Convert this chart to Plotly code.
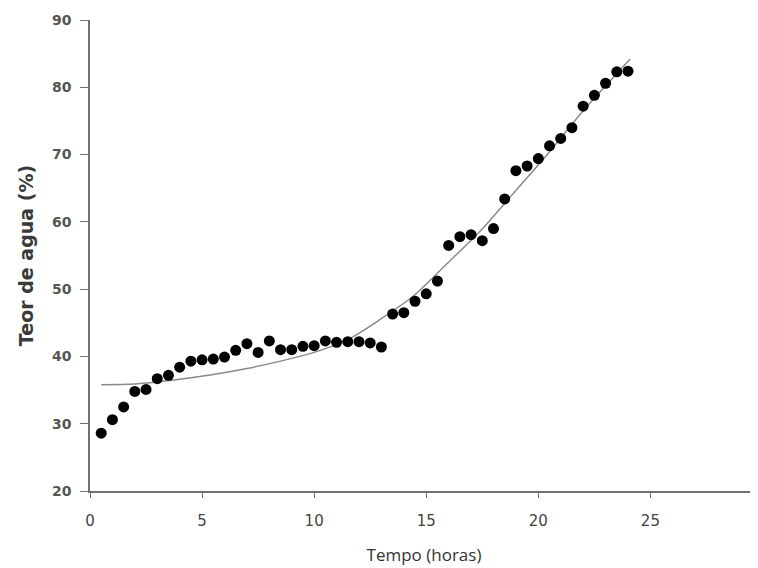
import plotly.graph_objects as go

# Measured points (time in hours, water content %)
tempo = [0.5, 1.0, 1.5, 2.0, 2.5, 3.0, 3.5, 4.0, 4.5, 5.0, 5.5, 6.0, 6.5, 7.0, 7.5, 8.0,
         8.5, 9.0, 9.5, 10.0, 10.5, 11.0, 11.5, 12.0, 12.5, 13.0, 13.5, 14.0, 14.5, 15.0,
         15.5, 16.0, 16.5, 17.0, 17.5, 18.0, 18.5, 19.0, 19.5, 20.0, 20.5, 21.0, 21.5,
         22.0, 22.5, 23.0, 23.5, 24.0]
teor = [28.6, 30.6, 32.5, 34.8, 35.1, 36.7, 37.2, 38.4, 39.3, 39.5, 39.6, 39.9, 40.9, 41.9,
        40.6, 42.3, 41.0, 41.0, 41.5, 41.6, 42.3, 42.1, 42.2, 42.2, 42.0, 41.4, 46.3, 46.5,
        48.2, 49.3, 51.2, 56.5, 57.8, 58.1, 57.2, 59.0, 63.4, 67.6, 68.3, 69.4, 71.3, 72.4,
        74.0, 77.2, 78.8, 80.6, 82.3, 82.4]

# Trend curve
curva_x = [0.5, 2.0, 4.0, 5.5, 7.0, 8.5, 10.0, 11.5, 12.9, 14.4, 15.9, 17.4, 18.8, 20.4, 22.0, 24.1]
curva_y = [35.8, 35.9, 36.6, 37.3, 38.2, 39.3, 40.6, 42.5, 45.4, 48.9, 53.7, 58.6, 63.9, 70.0, 76.5, 84.2]

x_ticks = [0, 5, 10, 15, 20, 25]
y_ticks = [20, 30, 40, 50, 60, 70, 80, 90]

fig = go.Figure()
fig.add_trace(go.Scatter(x=curva_x, y=curva_y, mode="lines",
                         line=dict(color="#8a8a8a", width=1.5, shape="spline", smoothing=0.8),
                         showlegend=False, hoverinfo="skip"))
fig.add_trace(go.Scatter(x=tempo, y=teor, mode="markers",
                         marker=dict(color="black", size=11, line=dict(width=0)),
                         showlegend=False))

fig.update_layout(
    width=750, height=560,
    margin=dict(l=82, r=0, t=12, b=77),
    paper_bgcolor="white", plot_bgcolor="white",
    xaxis=dict(range=[0, 29.8], tickvals=x_ticks, showgrid=False, zeroline=False,
               showline=True, linecolor="#707070", linewidth=1.5,
               ticks="outside", ticklen=5, tickcolor="#707070", ticklabelstandoff=10,
               tickfont=dict(family="DejaVu Sans", size=15, color="#444"),
               title=dict(text="Tempo (horas)", font=dict(family="Open Sans", size=17, color="#333"),
                          standoff=20)),
    yaxis=dict(range=[20, 90], tickvals=y_ticks, showgrid=False, zeroline=False,
               showline=True, linecolor="#707070", linewidth=1.5,
               ticks="outside", ticklen=8, tickcolor="#707070", ticklabelstandoff=6,
               tickfont=dict(family="DejaVu Sans", size=14, color="#555", weight="bold"),
               title=dict(text="<b>Teor de agua (%)</b>",
                          font=dict(family="DejaVu Sans", size=19, color="#3a3a3a"),
                          standoff=13)),
)

fig.write_html("out.html")
